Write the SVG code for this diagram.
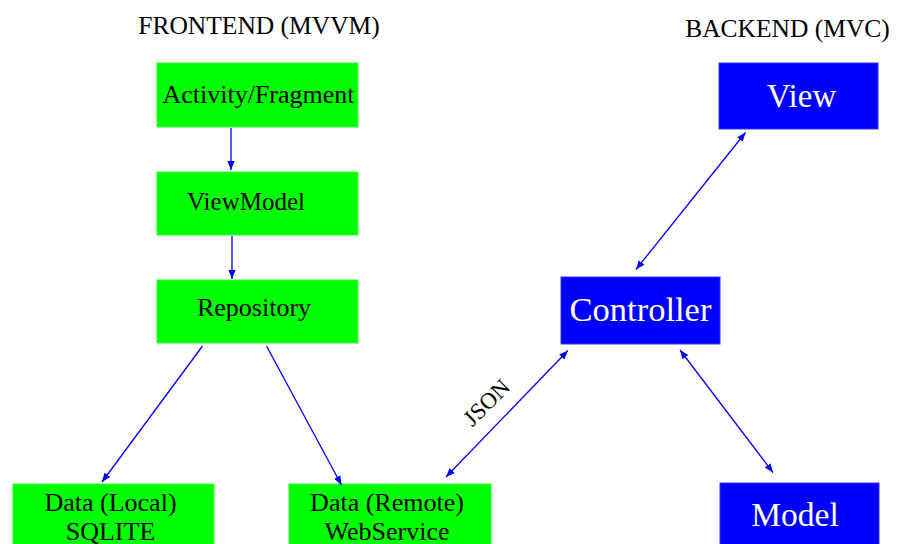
<svg xmlns="http://www.w3.org/2000/svg" width="902" height="544" viewBox="0 0 902 544">
<style>
text{font-family:"Liberation Serif","Times New Roman",serif;}
.title{font-size:25.5px;fill:#000;text-anchor:middle;}
.g{fill:#00ff00;stroke:#33ff33;stroke-width:1;}
.b{fill:#0000ff;stroke:#3333ff;stroke-width:1;}
.gt{font-size:26px;fill:#000;text-anchor:middle;}
.bt{font-size:33px;fill:#fff;text-anchor:middle;}
.e{stroke:#0000ff;stroke-width:1.3;fill:none;}
.lbl{font-size:23px;fill:#000;text-anchor:middle;}
</style>
<defs>
<marker id="ah" viewBox="0 0 10 10" refX="10" refY="5" markerWidth="9" markerHeight="9" markerUnits="userSpaceOnUse" orient="auto-start-reverse">
<path d="M0,1 L10,5 L0,9 Z" fill="#0000ff"/>
</marker>
</defs>
<rect width="902" height="544" fill="#fff"/>
<text class="title" x="259" y="34">FRONTEND (MVVM)</text>
<text class="title" x="787.5" y="37">BACKEND (MVC)</text>
<g id="activity"><rect class="g" x="157" y="63" width="201" height="64"/><text class="gt" x="258.5" y="103">Activity/Fragment</text></g>
<g id="viewmodel"><rect class="g" x="157" y="172" width="201" height="63"/><text class="gt" x="246" y="210" style="font-size:25px">ViewModel</text></g>
<g id="repository"><rect class="g" x="157" y="280" width="201" height="63"/><text class="gt" x="254" y="316">Repository</text></g>
<g id="datalocal"><rect class="g" x="13" y="484" width="201" height="70"/><text class="gt" x="110.5" y="511">Data (Local)</text><text class="gt" x="110.5" y="540">SQLITE</text></g>
<g id="dataremote"><rect class="g" x="289" y="484" width="202" height="70"/><text class="gt" x="387" y="511">Data (Remote)</text><text class="gt" x="387" y="540">WebService</text></g>
<g id="view"><rect class="b" x="719" y="63" width="159" height="66"/><text class="bt" x="801.5" y="107">View</text></g>
<g id="controller"><rect class="b" x="561" y="277" width="159" height="67"/><text class="bt" x="640.5" y="321" style="font-size:34.5px">Controller</text></g>
<g id="model"><rect class="b" x="720" y="483" width="159" height="70"/><text class="bt" x="795" y="526" style="font-size:33.5px">Model</text></g>
<g id="connectors">
<line class="e" x1="231" y1="128" x2="231" y2="170" marker-end="url(#ah)"/>
<line class="e" x1="232" y1="236" x2="232" y2="279" marker-end="url(#ah)"/>
<line class="e" x1="202.5" y1="346" x2="102" y2="482" marker-end="url(#ah)"/>
<line class="e" x1="266.5" y1="346" x2="341.5" y2="485" marker-end="url(#ah)"/>
<line class="e" x1="446" y1="477" x2="568" y2="350.5" marker-start="url(#ah)" marker-end="url(#ah)"/>
<line class="e" x1="680" y1="350" x2="773" y2="472.5" marker-start="url(#ah)" marker-end="url(#ah)"/>
<line class="e" x1="636" y1="269.5" x2="745.5" y2="132.5" marker-start="url(#ah)" marker-end="url(#ah)"/>
<text class="lbl" x="492" y="408" transform="rotate(-45 492 408)">JSON</text>
</g>
</svg>
